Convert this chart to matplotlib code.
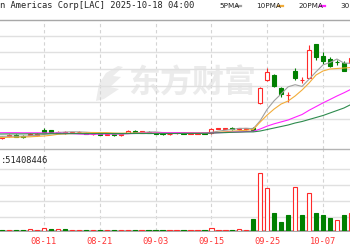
import matplotlib
matplotlib.use("Agg")
import matplotlib.pyplot as plt
import numpy as np
from matplotlib.patches import Polygon
from matplotlib.lines import Line2D

# ---------------- data ----------------
dates = ["07-31", "08-01", "08-04", "08-05", "08-06", "08-07", "08-08", "08-11", "08-12", "08-13",
         "08-14", "08-15", "08-18", "08-19", "08-20", "08-21", "08-22", "08-25", "08-26", "08-27",
         "08-28", "08-29", "09-02", "09-03", "09-04", "09-05", "09-08", "09-09", "09-10", "09-11",
         "09-12", "09-15", "09-16", "09-17", "09-18", "09-19", "09-22", "09-23", "09-24", "09-25",
         "09-26", "09-29", "09-30", "10-01", "10-02", "10-03", "10-06", "10-07", "10-08", "10-09",
         "10-10", "10-13"]
tick_labels = ["08-11", "08-21", "09-03", "09-15", "09-25", "10-07"]

opens = [2.30, 2.20, 2.45, 2.55, 2.45, 2.55, 2.50, 3.05, 3.00, 2.75,
         2.70, 2.75, 2.78, 2.75, 2.60, 2.65, 2.55, 2.60, 2.50, 2.75,
         2.95, 2.75, 2.85, 2.75, 2.70, 2.60, 2.70, 2.75, 2.65, 2.65,
         2.70, 2.70, 3.15, 3.15, 3.25, 3.10, 3.10, 3.20, 5.70, 8.00,
         8.50, 7.20, 6.50, 8.90, 7.97, 8.23, 11.60, 10.45, 10.05, 9.85,
         9.65, 9.70]
highs = [2.50, 2.45, 2.60, 2.60, 2.50, 2.70, 2.70, 3.20, 3.05, 2.90,
         2.90, 2.85, 2.90, 2.80, 2.70, 2.70, 2.65, 2.65, 2.65, 3.00,
         3.00, 2.95, 2.90, 2.80, 2.75, 2.70, 2.80, 2.80, 2.75, 2.75,
         2.75, 3.20, 3.25, 3.25, 3.30, 3.25, 3.25, 3.30, 7.35, 9.20,
         8.60, 7.35, 6.85, 9.25, 8.35, 11.47, 11.65, 10.85, 10.30, 10.05,
         9.90, 10.40]
lows = [2.20, 2.15, 2.30, 2.30, 2.25, 2.50, 2.45, 2.80, 2.75, 2.70,
        2.65, 2.70, 2.70, 2.60, 2.55, 2.50, 2.50, 2.45, 2.45, 2.70,
        2.75, 2.70, 2.70, 2.60, 2.55, 2.55, 2.65, 2.60, 2.60, 2.60,
        2.60, 2.65, 3.10, 3.10, 3.05, 3.05, 3.00, 2.90, 5.65, 7.90,
        7.30, 6.35, 5.85, 8.00, 7.73, 8.20, 10.00, 9.60, 9.30, 9.50,
        8.90, 9.60]
closes = [2.40, 2.35, 2.50, 2.35, 2.30, 2.60, 2.65, 2.85, 2.80, 2.85,
          2.80, 2.80, 2.80, 2.65, 2.65, 2.55, 2.60, 2.50, 2.60, 2.95,
          2.80, 2.90, 2.75, 2.65, 2.60, 2.65, 2.75, 2.65, 2.70, 2.70,
          2.65, 3.15, 3.20, 3.20, 3.10, 3.17, 3.20, 3.00, 7.20, 8.85,
          7.40, 6.60, 6.54, 8.25, 8.03, 11.00, 10.30, 9.95, 9.45, 9.80,
          8.95, 10.20]
volumes = [6, 6, 6, 5, 6, 12, 6, 21, 12, 12,
           12, 6, 6, 6, 5, 6, 6, 5, 6, 9,
           6, 6, 6, 5, 6, 6, 6, 6, 6, 6,
           6, 16, 6, 6, 6, 15, 9, 72, 348, 258,
           108, 54, 96, 264, 96, 228, 108, 96, 78, 66,
           96, 108]

ma5 = [2.35, 2.37, 2.38, 2.38, 2.38, 2.42, 2.48, 2.55, 2.64, 2.75,
       2.79, 2.82, 2.81, 2.78, 2.74, 2.69, 2.65, 2.59, 2.58, 2.64,
       2.69, 2.75, 2.80, 2.81, 2.74, 2.71, 2.68, 2.66, 2.67, 2.69,
       2.69, 2.77, 2.88, 2.98, 3.06, 3.16, 3.17, 3.13, 3.93, 5.08,
       5.93, 6.61, 7.32, 7.53, 7.36, 8.08, 8.82, 9.51, 9.75, 10.10,
       9.69, 9.67]
ma10 = [2.25, 2.25, 2.27, 2.28, 2.30, 2.32, 2.36, 2.40, 2.47, 2.57,
        2.61, 2.65, 2.68, 2.71, 2.75, 2.74, 2.74, 2.70, 2.68, 2.69,
        2.69, 2.70, 2.70, 2.70, 2.69, 2.70, 2.72, 2.73, 2.74, 2.72,
        2.70, 2.73, 2.77, 2.83, 2.88, 2.93, 2.97, 3.05, 3.80, 4.50,
        5.10, 5.60, 5.90, 6.40, 7.00, 7.70, 8.50, 8.90, 9.10, 9.15,
        9.20, 9.25]
ma20 = [2.73, 2.73, 2.73, 2.73, 2.72, 2.72, 2.72, 2.71, 2.70, 2.69,
        2.67, 2.64, 2.60, 2.57, 2.57, 2.58, 2.60, 2.61, 2.62, 2.63,
        2.65, 2.68, 2.69, 2.70, 2.72, 2.72, 2.73, 2.72, 2.71, 2.70,
        2.70, 2.71, 2.73, 2.76, 2.78, 2.81, 2.84, 2.87, 3.10, 3.39,
        3.62, 3.81, 4.00, 4.28, 4.55, 4.97, 5.34, 5.71, 6.05, 6.40,
        6.72, 7.07]
ma30 = [2.60, 2.60, 2.61, 2.61, 2.61, 2.62, 2.62, 2.62, 2.63, 2.63,
        2.63, 2.64, 2.64, 2.64, 2.64, 2.65, 2.65, 2.65, 2.65, 2.65,
        2.65, 2.65, 2.65, 2.65, 2.65, 2.65, 2.65, 2.66, 2.66, 2.66,
        2.67, 2.69, 2.72, 2.74, 2.77, 2.79, 2.81, 2.81, 2.90, 3.05,
        3.20, 3.35, 3.50, 3.70, 3.85, 4.05, 4.25, 4.45, 4.70, 4.95,
        5.20, 5.55]

title = "n Americas Corp[LAC] 2025-10-18 04:00"
vol_text = ":51408446"
legend_names = ["5PMA", "10PMA", "20PMA", "30"]

# ---------------- style ----------------
W, H = 350, 250
RED = "#ff2a2a"
GREEN = "#008000"
MA_COLORS = ["#a0a0a0", "#f2ad3a", "#ff22ff", "#2e8b4e"]
MONO = "DejaVu Sans Mono"


def fx(px):
    return px / W


def fy(py):
    return 1 - py / H


fig = plt.figure(figsize=(W / 100, H / 100), dpi=100, facecolor="white")
ax = fig.add_axes([0, fy(148.5), 1, (148.5 - 19.5) / H])
axv = fig.add_axes([0, fy(231), 1, (231 - 148.5) / H])

x = np.arange(len(dates))
o = np.array(opens); hi = np.array(highs); lo = np.array(lows); c = np.array(closes)
v = np.array(volumes)
up = c >= o

xlim = (0.692, 50.87)

# price panel
ax.vlines(x, lo, hi, colors=[RED if u else GREEN for u in up], lw=0.8, zorder=3)
ax.bar(x, np.abs(c - o), 0.6, np.minimum(o, c),
       facecolor=["white" if u else GREEN for u in up],
       edgecolor=[RED if u else GREEN for u in up], lw=0.8, zorder=4)
for ma, col in zip([ma5, ma10, ma20, ma30], MA_COLORS):
    ax.plot(x, ma, color=col, lw=0.8, zorder=5)

ax.set_xlim(*xlim)
ax.set_ylim(1.15, 14.05)
ax.set_yticks([4.10, 5.77, 7.44, 9.11, 10.78, 12.45])
tick_pos = [dates.index(t) for t in tick_labels]
ax.set_xticks(tick_pos)
ax.tick_params(length=0, labelbottom=False, labelleft=False)
ax.grid(axis="y", color="#e0e0e0", lw=1.0)
ax.grid(axis="x", color="#d4d4d4", lw=0.8, ls=(0, (3, 2.5)))
ax.set_axisbelow(True)
for s in ["left", "right", "bottom"]:
    ax.spines[s].set_visible(False)
ax.spines["top"].set_color("#a8a8a8")
ax.spines["top"].set_linewidth(1.0)

# watermark
ax.text(fx(192), fy(84), "东方财富", transform=fig.transFigure, fontsize=23,
        fontweight="bold", color="#ebebeb", family=["Noto Sans CJK SC"],
        ha="center", va="center", zorder=0.1)
logo = [(96, 101), (99, 84), (106, 73), (118, 66), (123, 67), (113, 76), (121, 77),
        (110, 87), (119, 89), (104, 99)]
ax.add_patch(Polygon([(fx(a), fy(b)) for a, b in logo], closed=True,
                     transform=fig.transFigure, facecolor="#ececec",
                     edgecolor="none", zorder=0.1, clip_on=False))

# volume panel
vcol_up = np.concatenate([[up[0]], c[1:] >= c[:-1]])
axv.bar(x, v, 0.62, facecolor=["white" if u else GREEN for u in vcol_up],
        edgecolor=[RED if u else GREEN for u in vcol_up], lw=0.8, zorder=3)
axv.set_xlim(*xlim)
axv.set_ylim(0, 495)
axv.set_yticks([86, 182, 278, 374])
axv.set_xticks(tick_pos)
axv.set_xticklabels(tick_labels, fontsize=6.3, family=MONO, color="#ff3333")
axv.tick_params(length=0, labelleft=False, pad=4.2)
axv.grid(axis="y", color="#e0e0e0", lw=1.0)
axv.grid(axis="x", color="#d4d4d4", lw=0.8, ls=(0, (3, 2.5)))
axv.set_axisbelow(True)
for s in ["left", "right"]:
    axv.spines[s].set_visible(False)
axv.spines["top"].set_color("#b4b4b4")
axv.spines["top"].set_linewidth(1.0)
axv.spines["bottom"].set_color("#a0a0a0")
axv.spines["bottom"].set_linewidth(1.3)

# header texts
fig.text(0, fy(5.5), title, fontsize=6.3, family=MONO, color="#222222", va="center", ha="left")
fig.text(fx(0.5), fy(160.5), vol_text, fontsize=6.3, family=MONO, color="#222222",
         va="center", ha="left")
leg_x = [219, 256, 298, 340]
for name, lx, col in zip(legend_names, leg_x, MA_COLORS):
    fig.text(fx(lx), fy(6), name, fontsize=5.2, family="DejaVu Sans", color="#222222",
             va="center", ha="left")
    if len(name) > 2:
        w = 4.1 * len(name)
        fig.add_artist(Line2D([fx(lx + w + 1.5), fx(lx + w + 6)], [fy(6), fy(6)],
                              color=col, lw=1.6, transform=fig.transFigure))

fig.savefig("out.png", dpi=100, facecolor="white")
